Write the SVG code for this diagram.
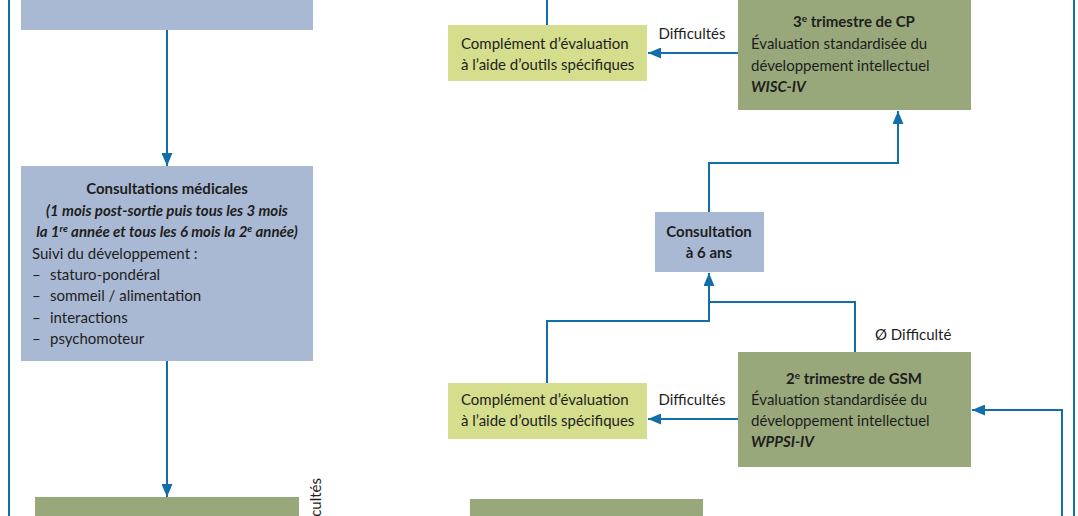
<svg xmlns="http://www.w3.org/2000/svg" width="1078" height="516" viewBox="0 0 1078 516">
<style>
  .blue{fill:#a9b9d3}
  .green{fill:#98a87a}
  .light{fill:#d4de8c}
  text{font-family:Lato,"Open Sans","Liberation Sans",sans-serif;font-size:15px;fill:#1e1e1e}
  .b{font-weight:bold}
  .bi{font-weight:bold;font-style:italic}
  .c{text-anchor:middle}
  .ln{fill:none;stroke:#116ea9;stroke-width:2}
</style>
<defs>
  <marker id="arr" markerUnits="userSpaceOnUse" markerWidth="13" markerHeight="11" refX="13" refY="5.5" orient="auto">
    <path d="M0,0 L13,5.5 L0,11 z" fill="#116ea9"/>
  </marker>
</defs>
<rect width="1078" height="516" fill="#ffffff"/>

<g id="connectors">
  <line class="ln" x1="9" y1="0" x2="9" y2="516"/>
  <line class="ln" x1="167" y1="30" x2="167" y2="166" marker-end="url(#arr)"/>
  <line class="ln" x1="167" y1="361" x2="167" y2="497" marker-end="url(#arr)"/>
  <line class="ln" x1="1074" y1="0" x2="1074" y2="516"/>
  <polyline class="ln" points="1062,516 1062,410 972,410" marker-end="url(#arr)"/>
  <line class="ln" x1="547" y1="0" x2="547" y2="25"/>
  <line class="ln" x1="738" y1="53" x2="648" y2="53" marker-end="url(#arr)"/>
  <line class="ln" x1="738" y1="419" x2="648" y2="419" marker-end="url(#arr)"/>
  <polyline class="ln" points="855,352 855,302 709,302"/>
  <polyline class="ln" points="547,383 547,321 709,321 709,273" marker-end="url(#arr)"/>
  <polyline class="ln" points="709,212 709,163 898,163 898,111" marker-end="url(#arr)"/>
  <text x="692" y="39" class="c">Difficultés</text>
  <text x="692" y="405" class="c">Difficultés</text>
  <text x="875" y="340">Ø Difficulté</text>
  <text x="321" y="478" text-anchor="end" transform="rotate(-90 321 478)">cultés</text>
</g>

<g id="node-top-left">
  <rect class="blue" x="21" y="0" width="292" height="30"/>
</g>

<g id="node-consultations-medicales">
  <rect class="blue" x="21" y="166" width="292" height="195"/>
  <text x="167" y="194" class="b c">Consultations médicales</text>
  <text x="167" y="216" class="bi c">(1 mois post-sortie puis tous les 3 mois</text>
  <text x="167" y="237" class="bi c">la 1<tspan font-size="10" dy="-5">re</tspan><tspan dy="5"> année et tous les 6 mois la 2</tspan><tspan font-size="10" dy="-5">e</tspan><tspan dy="5"> année)</tspan></text>
  <text x="32" y="259">Suivi du développement :</text>
  <text x="32" y="280">–</text><text x="50" y="280">staturo-pondéral</text>
  <text x="32" y="301">–</text><text x="50" y="301">sommeil / alimentation</text>
  <text x="32" y="323">–</text><text x="50" y="323">interactions</text>
  <text x="32" y="344">–</text><text x="50" y="344">psychomoteur</text>
</g>

<g id="node-bottom-left">
  <rect class="green" x="35" y="497" width="264" height="19"/>
</g>

<g id="node-complement-top">
  <rect class="light" x="448" y="25" width="199" height="56"/>
  <text x="461" y="49">Complément d’évaluation</text>
  <text x="461" y="70">à l’aide d’outils spécifiques</text>
</g>

<g id="node-cp">
  <rect class="green" x="738" y="0" width="233" height="110"/>
  <text x="854" y="27" class="b c">3<tspan font-size="10" dy="-5">e</tspan><tspan dy="5"> trimestre de CP</tspan></text>
  <text x="751" y="49">Évaluation standardisée du</text>
  <text x="751" y="71">développement intellectuel</text>
  <text x="751" y="92" class="bi">WISC-IV</text>
</g>

<g id="node-consultation-6-ans">
  <rect class="blue" x="655" y="212" width="109" height="60"/>
  <text x="709" y="237" class="b c">Consultation</text>
  <text x="709" y="258" class="b c">à 6 ans</text>
</g>

<g id="node-gsm">
  <rect class="green" x="738" y="352" width="233" height="115"/>
  <text x="854" y="384" class="b c">2<tspan font-size="10" dy="-5">e</tspan><tspan dy="5"> trimestre de GSM</tspan></text>
  <text x="751" y="405">Évaluation standardisée du</text>
  <text x="751" y="426">développement intellectuel</text>
  <text x="751" y="447" class="bi">WPPSI-IV</text>
</g>

<g id="node-complement-bottom">
  <rect class="light" x="448" y="383" width="199" height="56"/>
  <text x="461" y="405">Complément d’évaluation</text>
  <text x="461" y="426">à l’aide d’outils spécifiques</text>
</g>

<g id="node-bottom-middle">
  <rect class="green" x="470" y="499" width="233" height="17"/>
</g>
</svg>
